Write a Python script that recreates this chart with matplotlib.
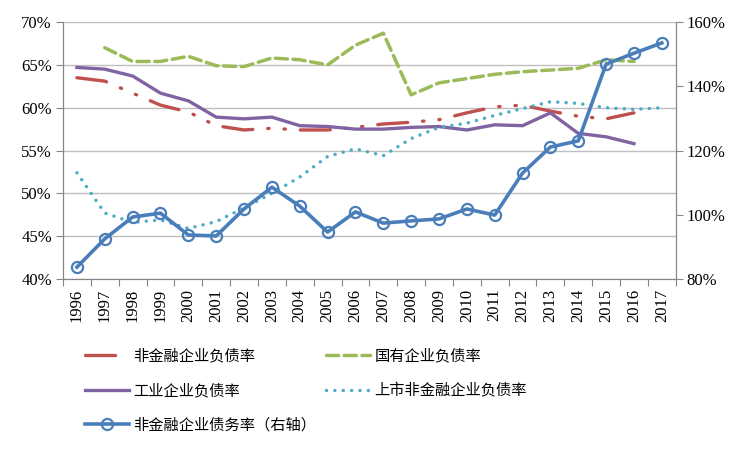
import matplotlib
matplotlib.use("Agg")
import matplotlib.pyplot as plt
from matplotlib.ticker import FixedLocator, FuncFormatter

years = [str(y) for y in range(1996, 2018)]

# left axis (%)
nonfin_debt = [63.5, 63.1, 61.7, 60.3, 59.5, 57.9, 57.4, 57.6, 57.4, 57.4, 57.7, 58.1,
               58.3, 58.6, 59.4, 60.1, 60.3, 59.6, 59.0, 58.7, 59.4]
soe_debt = [None, 67.0, 65.4, 65.4, 66.0, 64.9, 64.8, 65.8, 65.6, 65.0, 67.3, 68.7,
            61.5, 62.9, 63.4, 63.9, 64.2, 64.4, 64.6, 65.6, 65.4]
industry_debt = [64.7, 64.5, 63.7, 61.7, 60.8, 58.9, 58.7, 58.9, 57.9, 57.8, 57.5, 57.5,
                 57.7, 57.8, 57.4, 58.0, 57.9, 59.4, 57.0, 56.6, 55.8]
listed_debt = [52.4, 47.7, 46.6, 46.9, 45.9, 46.7, 48.3, 50.0, 51.9, 54.3, 55.2, 54.4,
               56.4, 57.7, 58.2, 59.1, 59.9, 60.7, 60.5, 60.0, 59.8, 60.0]
# right axis (%)
nonfin_leverage = [83.7, 92.5, 99.3, 100.5, 93.7, 93.4, 101.8, 108.6, 102.7, 94.6, 100.9,
                   97.4, 98.1, 98.7, 101.8, 99.9, 113.0, 121.1, 123.0, 146.9, 150.3, 153.5]

plt.rcParams['font.family'] = ['Liberation Serif', 'DejaVu Serif']
plt.rcParams['font.size'] = 12

fig = plt.figure(figsize=(7.5, 4.5), dpi=100)
ax = fig.add_axes([0.084, 0.38, 0.817, 0.571])
ax2 = ax.twinx()

x = list(range(len(years)))
x21 = x[:21]
x_soe = [i for i, v in zip(x21, soe_debt) if v is not None]
y_soe = [v for v in soe_debt if v is not None]

l1, = ax.plot(x21, nonfin_debt, color='#C0504D', lw=2.4,
              linestyle=(0, (9, 4.5, 0.4, 4.5, 0.4, 4.5)), dash_capstyle='round',
              label='非金融企业负债率')
l2, = ax.plot(x_soe, y_soe, color='#9BBB59', lw=2.5,
              linestyle=(0, (3.5, 1.6)), dash_capstyle='round', label='国有企业负债率')
l3, = ax.plot(x21, industry_debt, color='#8064A2', lw=2.4, label='工业企业负债率')
l4, = ax.plot(x, listed_debt, color='#4BACC6', lw=2.5,
              linestyle=(0, (0.01, 2.4)), dash_capstyle='round', label='上市非金融企业负债率')
l5, = ax2.plot(x, nonfin_leverage, color='#4A7EBB', lw=2.6, marker='o', markersize=8,
               markerfacecolor='none', markeredgewidth=1.6, label='非金融企业债务率（右轴）')

ax.set_xlim(-0.5, len(years) - 0.5)
ax.set_ylim(40, 70)
ax2.set_ylim(80, 160)
ax.set_yticks([40, 45, 50, 55, 60, 65, 70])
ax2.set_yticks([80, 100, 120, 140, 160])
pct = FuncFormatter(lambda v, p: f"{v:.0f}%")
ax.yaxis.set_major_formatter(pct)
ax2.yaxis.set_major_formatter(pct)

ax.xaxis.set_major_locator(FixedLocator([i - 0.5 for i in range(len(years) + 1)]))
ax.xaxis.set_minor_locator(FixedLocator(x))
ax.set_xticklabels([], minor=False)
ax.set_xticklabels(years, minor=True, rotation=90)
ax.tick_params(axis='x', which='major', length=5, color='#868686')
ax.tick_params(axis='x', which='minor', length=0, pad=7)
ax.tick_params(axis='y', length=5, color='#868686', pad=3)
ax2.tick_params(axis='y', length=5, color='#868686', pad=3)

ax.grid(axis='y', color='#BFBFBF', lw=1)
ax.set_axisbelow(True)
for a in (ax, ax2):
    a.spines['top'].set_visible(False)
    for s in ('left', 'right', 'bottom'):
        a.spines[s].set_color('#868686')

handles = [l1, l3, l5, l2, l4]
fig.legend(handles, [h.get_label() for h in handles],
           loc='upper left', bbox_to_anchor=(0.113, 0.228), ncol=2, frameon=False,
           borderaxespad=0, borderpad=0,
           prop={'family': ['Noto Sans CJK SC', 'DejaVu Sans'], 'size': 11},
           handlelength=2.9, handletextpad=0.3, columnspacing=0.6, labelspacing=1.15)

fig.savefig('out.png', dpi=100)
